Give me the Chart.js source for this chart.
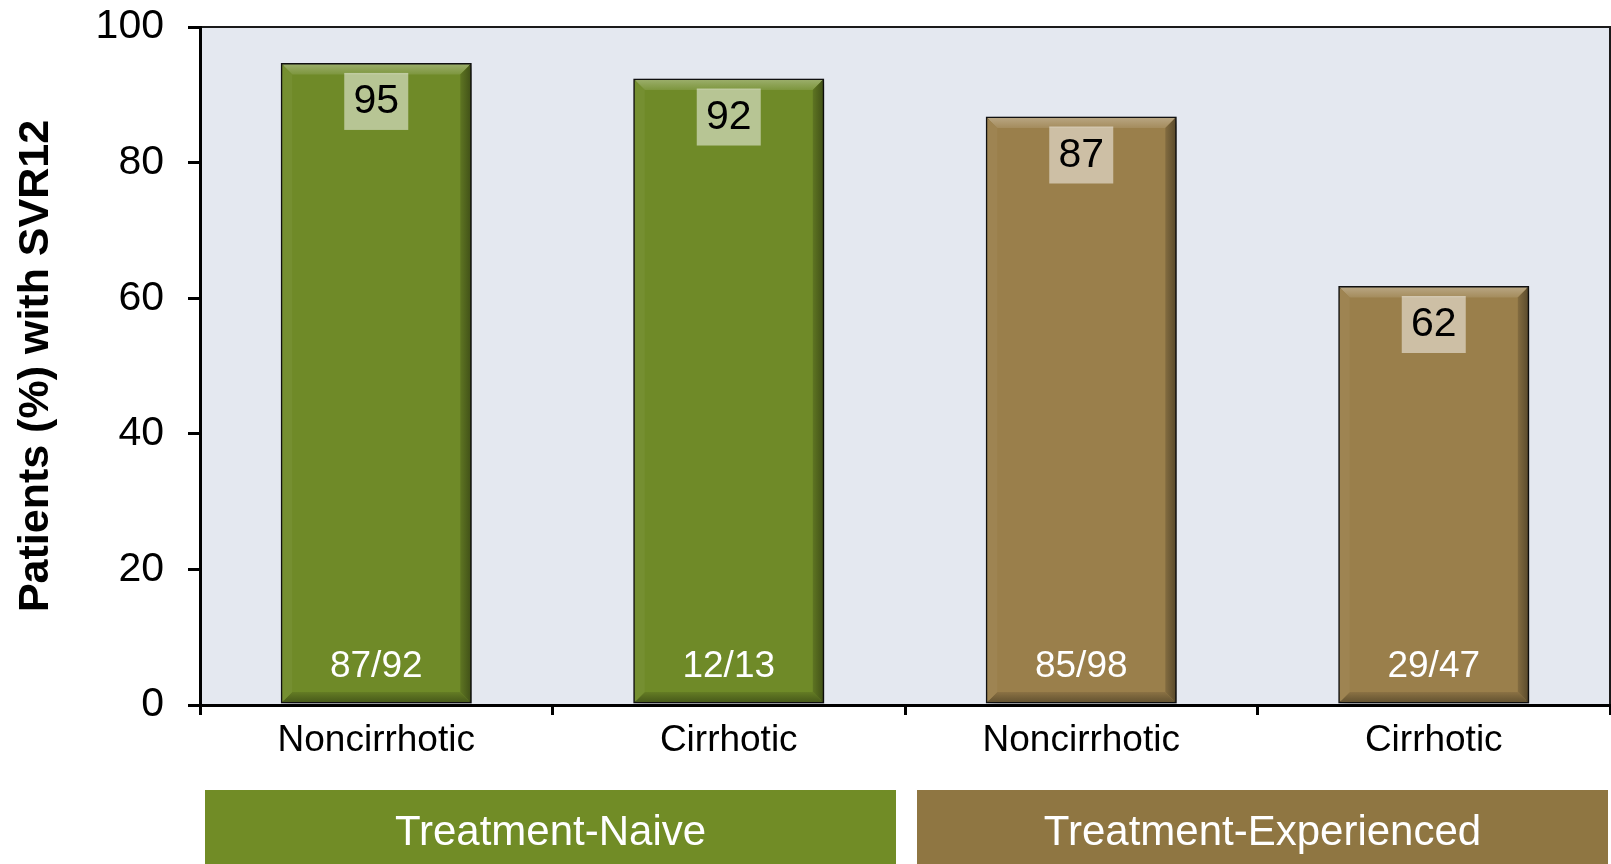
<!DOCTYPE html>
<html>
<head>
<meta charset="utf-8">
<script src="https://cdn.jsdelivr.net/npm/chart.js@4"></script>
<style>
html,body{margin:0;padding:0;background:#fff;}
#wrap{width:1611px;height:864px;}
</style>
</head>
<body>
<div id="wrap"><canvas id="c" width="1611" height="864"></canvas></div>
<script>
const categories = ['Noncirrhotic', 'Cirrhotic', 'Noncirrhotic', 'Cirrhotic'];
const svrValues = [94.7, 92.4, 86.8, 61.8];
const valueLabels = ['95', '92', '87', '62'];
const fractions = ['87/92', '12/13', '85/98', '29/47'];
const groups = ['Treatment-Naive', 'Treatment-Experienced'];
const groupSpans = [[0, 1], [2, 3]];
const barColors = ['#6F8A28', '#6F8A28', '#9A7F4B', '#9A7F4B'];
const groupColors = ['#718C26', '#8F7642'];
const yMin = 0, yMax = 100, yStep = 20;

const FONT = '"Liberation Sans", Arial, Helvetica, sans-serif';

const bgPlugin = {
  id: 'bg',
  beforeDraw(chart) {
    const {ctx, chartArea: a} = chart;
    ctx.save();
    ctx.fillStyle = '#E4E8F0';
    ctx.fillRect(a.left, a.top, a.right - a.left, a.bottom - a.top);
    ctx.strokeStyle = '#1a1a1a';
    ctx.lineWidth = 2;
    ctx.beginPath();
    ctx.moveTo(a.left, a.top);
    ctx.lineTo(a.right, a.top);
    ctx.lineTo(a.right, a.bottom);
    ctx.stroke();
    ctx.restore();
  }
};

const shadowPlugin = {
  id: 'shadow',
  beforeDatasetDraw(chart) {
    const ctx = chart.ctx;
    ctx.save();
    ctx.shadowColor = 'rgba(0,0,0,0.4)';
    ctx.shadowBlur = 8;
    ctx.shadowOffsetX = 5;
    ctx.shadowOffsetY = 3;
  },
  afterDatasetDraw(chart) {
    chart.ctx.restore();
  }
};

function shade(hex, f) {
  const n = parseInt(hex.slice(1), 16);
  let r = (n >> 16) & 255, g = (n >> 8) & 255, b = n & 255;
  if (f >= 0) { r += (255 - r) * f; g += (255 - g) * f; b += (255 - b) * f; }
  else { r *= 1 + f; g *= 1 + f; b *= 1 + f; }
  return `rgb(${Math.round(r)},${Math.round(g)},${Math.round(b)})`;
}

const labelPlugin = {
  id: 'labels',
  afterDatasetsDraw(chart) {
    const ctx = chart.ctx;
    const meta = chart.getDatasetMeta(0);
    meta.data.forEach((bar, i) => {
      const p = bar.getProps(['x', 'y', 'base', 'width'], true);
      const l = p.x - p.width / 2 + 1.5, r = p.x + p.width / 2 - 1.5;
      const t = p.y + 1.5, b = p.base - 1.5;
      const d = 10;
      const c = barColors[i];
      ctx.save();
      // top bevel
      let gr = ctx.createLinearGradient(0, t, 0, t + d);
      gr.addColorStop(0, shade(c, 0.3));
      gr.addColorStop(1, shade(c, 0.1));
      ctx.fillStyle = gr;
      ctx.beginPath();
      ctx.moveTo(l, t); ctx.lineTo(r, t); ctx.lineTo(r - d, t + d); ctx.lineTo(l + d, t + d); ctx.closePath(); ctx.fill();
      // right bevel
      gr = ctx.createLinearGradient(r - d, 0, r, 0);
      gr.addColorStop(0, shade(c, -0.15));
      gr.addColorStop(1, shade(c, -0.4));
      ctx.fillStyle = gr;
      ctx.beginPath();
      ctx.moveTo(r, t); ctx.lineTo(r, b); ctx.lineTo(r - d, b - d); ctx.lineTo(r - d, t + d); ctx.closePath(); ctx.fill();
      // bottom bevel
      gr = ctx.createLinearGradient(0, b - d, 0, b);
      gr.addColorStop(0, shade(c, -0.1));
      gr.addColorStop(1, shade(c, -0.35));
      ctx.fillStyle = gr;
      ctx.beginPath();
      ctx.moveTo(l, b); ctx.lineTo(r, b); ctx.lineTo(r - d, b - d); ctx.lineTo(l + d, b - d); ctx.closePath(); ctx.fill();
      // left bevel
      ctx.fillStyle = shade(c, 0.04);
      ctx.beginPath();
      ctx.moveTo(l, t); ctx.lineTo(l + d, t + d); ctx.lineTo(l + d, b - d); ctx.lineTo(l, b); ctx.closePath(); ctx.fill();
      // value box
      const cy = p.y + 38;
      ctx.fillStyle = 'rgba(255,255,255,0.5)';
      ctx.fillRect(p.x - 32, cy - 28, 64, 57);
      ctx.fillStyle = '#000';
      ctx.font = '41px ' + FONT;
      ctx.textAlign = 'center';
      ctx.textBaseline = 'middle';
      ctx.fillText(valueLabels[i], p.x, cy + 1);
      // fraction
      ctx.fillStyle = '#fff';
      ctx.font = '37px ' + FONT;
      ctx.fillText(fractions[i], p.x, p.base - 37);
      ctx.restore();
    });
  }
};

const groupPlugin = {
  id: 'groups',
  afterDraw(chart) {
    const ctx = chart.ctx;
    const xs = chart.scales.x;
    const half = (xs.getPixelForValue(1) - xs.getPixelForValue(0)) / 2;
    groups.forEach((g, gi) => {
      const [s, e] = groupSpans[gi];
      let left = xs.getPixelForValue(s) - half;
      let right = xs.getPixelForValue(e) + half;
      left += gi === 0 ? 5 : 12;
      right -= gi === 0 ? 9 : 2;
      const top = 790, bottom = 864;
      ctx.save();
      ctx.fillStyle = groupColors[gi];
      ctx.fillRect(left, top, right - left, bottom - top);
      ctx.fillStyle = '#fff';
      ctx.font = '42px ' + FONT;
      ctx.textAlign = 'center';
      ctx.textBaseline = 'middle';
      ctx.fillText(g, (left + right) / 2, 833);
      ctx.restore();
    });
  }
};

new Chart(document.getElementById('c'), {
  type: 'bar',
  data: {
    labels: categories,
    datasets: [{
      data: svrValues,
      backgroundColor: barColors,
      borderColor: '#111',
      borderWidth: 3,
      borderSkipped: false,
      categoryPercentage: 1,
      barPercentage: 0.542
    }]
  },
  options: {
    responsive: false,
    animation: false,
    devicePixelRatio: 1,
    layout: {padding: {left: 0, top: 27, right: 1, bottom: 0}},
    plugins: {legend: {display: false}, tooltip: {enabled: false}},
    scales: {
      x: {
        afterFit(s) { s.height = 159; s.paddingLeft = 0; s.paddingRight = 0; },
        grid: {drawOnChartArea: false, drawTicks: true, tickLength: 10, color: '#000', lineWidth: 3, offset: true},
        border: {display: true, color: '#000', width: 3},
        ticks: {color: '#000', font: {size: 37, family: FONT}, padding: 4, maxRotation: 0, autoSkip: false}
      },
      y: {
        min: yMin, max: yMax,
        afterFit(s) { s.width = 200; s.paddingTop = 0; s.paddingBottom = 0; },
        grid: {drawOnChartArea: false, drawTicks: true, tickLength: 12, color: '#000', lineWidth: 3},
        border: {display: true, color: '#000', width: 3},
        ticks: {stepSize: yStep, color: '#000', font: {size: 41, family: FONT}, padding: 24},
        title: {display: true, text: 'Patients (%) with SVR12', color: '#000', font: {size: 43, weight: 'bold', family: FONT}, padding: {top: 10, bottom: 0}}
      }
    }
  },
  plugins: [bgPlugin, shadowPlugin, labelPlugin, groupPlugin]
});
</script>
</body>
</html>
